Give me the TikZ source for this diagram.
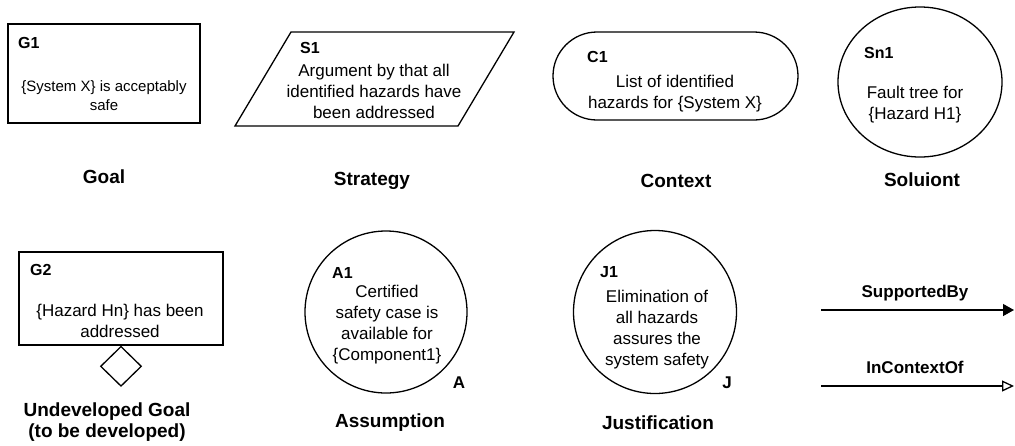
\documentclass[tikz,border=0pt]{standalone}
\usepackage{fontspec}
\setmainfont{Liberation Sans}
\usetikzlibrary{arrows.meta,shapes.geometric}
\begin{document}
\begin{tikzpicture}[x=1pt,y=-1pt,
  shapeline/.style={draw=black,line width=1.3pt},
  body/.style={align=center,inner sep=0pt,font=\fontsize{17}{21}\selectfont},
  ident/.style={anchor=west,inner sep=0pt,font=\fontsize{16}{19}\selectfont\bfseries},
  caption/.style={align=center,inner sep=0pt,font=\fontsize{19}{21}\selectfont\bfseries},
  linklabel/.style={inner sep=0pt,font=\fontsize{17}{20}\selectfont\bfseries},
  link/.style={line width=1.3pt}]
\useasboundingbox (0,0) rectangle (1015,445);

% Goal
\node[shapeline,rectangle,minimum width=192pt,minimum height=99pt,inner sep=0pt] (g1) at (104,73.5) {};
\node[ident] (g1id) at (18,43) {G1};
\node[body,font=\fontsize{15}{19}\selectfont] (g1txt) at (104,95.5) {\{System X\} is acceptably\\safe};
\node[caption] (goal) at (104,177) {Goal};

% Strategy
\draw[shapeline] (291,32) -- (514,32) -- (458,126) -- (235,126) -- cycle;
\coordinate (s1) at (374.5,79);
\node[ident] (s1id) at (300,48) {S1};
\node[body] (s1txt) at (374,91) {Argument by that all\\identified hazards have\\been addressed};
\node[caption] (strategy) at (372,181) {Strategy};

% Context
\node[shapeline,rectangle,rounded corners=44pt,minimum width=245pt,minimum height=88pt,inner sep=0pt] (c1) at (675.5,76) {};
\node[ident] (c1id) at (587,57) {C1};
\node[body] (c1txt) at (675,94) {List of identified\\hazards for \{System X\}};
\node[caption] (context) at (676,181) {Context};

% Solution
\node[shapeline,ellipse,minimum width=164pt,minimum height=150pt,inner sep=0pt] (sn1) at (920,82) {};
\node[ident] (sn1id) at (864,53) {Sn1};
\node[body] (sn1txt) at (915,105) {Fault tree for\\\{Hazard H1\}};
\node[caption] (solution) at (922,180) {Soluiont};

% Undeveloped goal
\node[shapeline,rectangle,minimum width=204pt,minimum height=93pt,inner sep=0pt] (g2) at (121,298.5) {};
\node[ident] (g2id) at (30,270) {G2};
\node[body] (g2txt) at (120,320.5) {\{Hazard Hn\} has been\\addressed};
\node[shapeline,diamond,minimum width=41pt,minimum height=40pt,inner sep=0pt,anchor=north] (und) at (g2.south) {};
\node[caption] (undev) at (107,422) {Undeveloped Goal\\(to be developed)};

% Assumption
\node[shapeline,circle,minimum size=162pt,inner sep=0pt] (a1) at (386,312) {};
\node[ident] (a1id) at (332,273) {A1};
\node[body] (a1txt) at (387,324.5) {Certified\\safety case is\\available for\\\{Component1\}};
\node[linklabel] (amark) at (459,383) {A};
\node[caption] (assumption) at (390,423) {Assumption};

% Justification
\node[shapeline,circle,minimum size=163pt,inner sep=0pt] (j1) at (655,312) {};
\node[ident] (j1id) at (600,272) {J1};
\node[body] (j1txt) at (657,330) {Elimination of\\all hazards\\assures the\\system safety};
\node[linklabel] (jmark) at (727,383) {J};
\node[caption] (justification) at (658,423) {Justification};

% Legend arrows
\coordinate (sbstart) at (821,310);
\coordinate (sbend) at (1014,310);
\draw[link,-{Triangle[length=11pt,width=12pt]}] (sbstart) -- (sbend);
\node[linklabel] (sblabel) at (915,293) {SupportedBy};
\coordinate (icstart) at (821,386);
\coordinate (icend) at (1014,386);
\draw[link,-{Triangle[open,length=12pt,width=11pt]}] (icstart) -- (icend);
\node[linklabel] (iclabel) at (915,367) {InContextOf};
\end{tikzpicture}
\end{document}
